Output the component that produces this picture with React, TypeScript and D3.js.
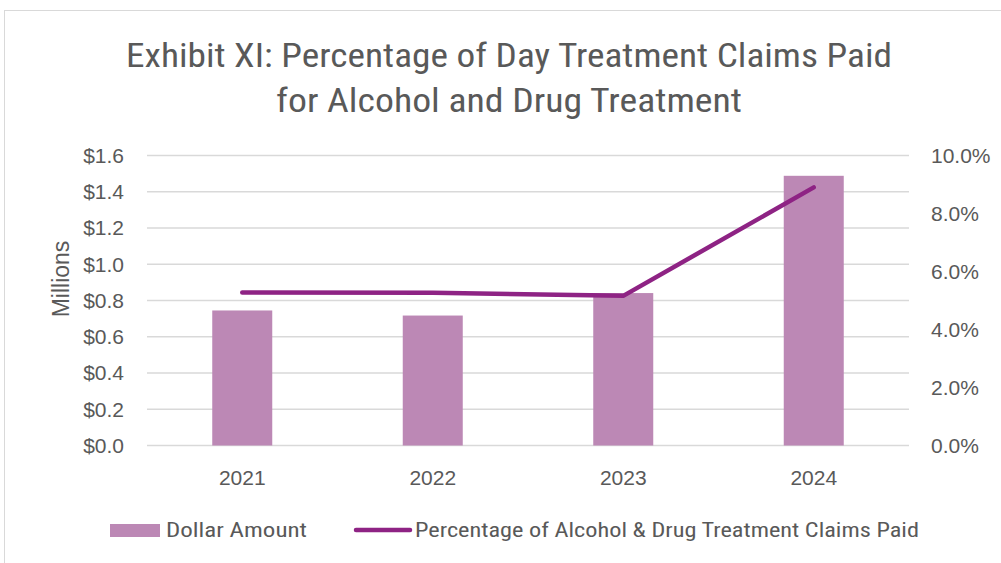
import React, { useEffect, useRef } from "react";
import * as d3 from "d3";

// values
const years = ["2021", "2022", "2023", "2024"];
const dollarMillions = [0.745, 0.717, 0.841, 1.488];
const pctPaid = [0.0528, 0.0527, 0.0516, 0.089];
const leftTicks = [0, 0.2, 0.4, 0.6, 0.8, 1.0, 1.2, 1.4, 1.6];
const rightTicks = [0, 0.02, 0.04, 0.06, 0.08, 0.1];

const titleLines = [
  "Exhibit XI: Percentage of Day Treatment Claims Paid",
  "for Alcohol and Drug Treatment",
];
const titleWidths = [766, 466];
const barLabel = "Dollar Amount";
const lineLabel = "Percentage of Alcohol & Drug Treatment Claims Paid";

const W = 1001;
const H = 563;
const narrow = "'Liberation Sans Narrow', 'Roboto Condensed', 'DejaVu Sans Condensed', sans-serif";
const sans = "'Liberation Sans', Arial, sans-serif";
const textColor = "#595959";

function App() {
  const ref = useRef<SVGSVGElement>(null);

  useEffect(() => {
    const svg = d3.select(ref.current);
    svg.selectAll("*").remove();

    const left = 147;
    const right = 909;
    const top = 155.5;
    const bottom = 445.5;

    const xc = d3.scaleBand().domain(years).range([left, right]);
    const cx = (d: string) => (xc(d) || 0) + xc.bandwidth() / 2;
    const barW = xc.bandwidth() * 0.315;
    const y = d3.scaleLinear().domain([0, 1.6]).range([bottom, top]);
    const y2 = d3.scaleLinear().domain([0, 0.1]).range([bottom, top]);

    // chart frame
    svg
      .append("rect")
      .attr("x", 4.5)
      .attr("y", 10.5)
      .attr("width", 1010)
      .attr("height", 560)
      .attr("fill", "#fff")
      .attr("stroke", "#d9d9d9");

    // title
    svg
      .append("g")
      .selectAll("text")
      .data(titleLines)
      .enter()
      .append("text")
      .attr("x", 509)
      .attr("y", (_d, i) => 67 + i * 45)
      .attr("text-anchor", "middle")
      .attr("font-family", narrow)
      .attr("font-size", 33)
      .attr("textLength", (_d, i) => titleWidths[i])
      .attr("lengthAdjust", "spacingAndGlyphs")
      .attr("fill", textColor)
      .text((d) => d);

    // gridlines
    svg
      .append("g")
      .selectAll("line")
      .data(leftTicks)
      .enter()
      .append("line")
      .attr("x1", left)
      .attr("x2", right)
      .attr("y1", (d) => y(d))
      .attr("y2", (d) => y(d))
      .attr("stroke", "#d9d9d9")
      .attr("stroke-width", 1.5);

    // left axis labels
    svg
      .append("g")
      .selectAll("text")
      .data(leftTicks)
      .enter()
      .append("text")
      .attr("x", 124)
      .attr("y", (d) => y(d))
      .attr("dy", "0.35em")
      .attr("text-anchor", "end")
      .attr("font-family", sans)
      .attr("font-size", 21)
      .attr("fill", textColor)
      .text((d) => "$" + d3.format(".1f")(d));

    // right axis labels
    svg
      .append("g")
      .selectAll("text")
      .data(rightTicks)
      .enter()
      .append("text")
      .attr("x", 931)
      .attr("y", (d) => y2(d))
      .attr("dy", "0.35em")
      .attr("text-anchor", "start")
      .attr("font-family", sans)
      .attr("font-size", 21)
      .attr("fill", textColor)
      .text((d) => d3.format(".1%")(d));

    // axis title
    svg
      .append("text")
      .attr("transform", `translate(69,279) rotate(-90)`)
      .attr("text-anchor", "middle")
      .attr("font-family", sans)
      .attr("font-size", 23)
      .attr("fill", textColor)
      .text("Millions");

    // bars
    svg
      .append("g")
      .selectAll("rect")
      .data(years)
      .enter()
      .append("rect")
      .attr("x", (d) => cx(d) - barW / 2)
      .attr("width", barW)
      .attr("y", (_d, i) => y(dollarMillions[i]))
      .attr("height", (_d, i) => bottom - y(dollarMillions[i]))
      .attr("fill", "#bc88b5");

    // year labels
    svg
      .append("g")
      .selectAll("text")
      .data(years)
      .enter()
      .append("text")
      .attr("x", (d) => cx(d))
      .attr("y", 478)
      .attr("dy", "0.35em")
      .attr("text-anchor", "middle")
      .attr("font-family", sans)
      .attr("font-size", 21)
      .attr("fill", textColor)
      .text((d) => d);

    // percentage line
    const line = d3
      .line<number>()
      .x((_d, i) => cx(years[i]))
      .y((d) => y2(d));
    svg
      .append("path")
      .datum(pctPaid)
      .attr("d", line)
      .attr("fill", "none")
      .attr("stroke", "#8e2384")
      .attr("stroke-width", 4.5)
      .attr("stroke-linecap", "round")
      .attr("stroke-linejoin", "round");

    // legend
    const lg = svg.append("g");
    lg.append("rect")
      .attr("x", 110)
      .attr("y", 524)
      .attr("width", 50)
      .attr("height", 13)
      .attr("fill", "#bc88b5");
    lg.append("text")
      .attr("x", 166)
      .attr("y", 530)
      .attr("dy", "0.35em")
      .attr("font-family", narrow)
      .attr("font-size", 21)
      .attr("textLength", 141)
      .attr("lengthAdjust", "spacingAndGlyphs")
      .attr("fill", textColor)
      .text(barLabel);
    lg.append("line")
      .attr("x1", 356)
      .attr("x2", 410)
      .attr("y1", 530)
      .attr("y2", 530)
      .attr("stroke", "#8e2384")
      .attr("stroke-width", 4.5)
      .attr("stroke-linecap", "round");
    lg.append("text")
      .attr("x", 415)
      .attr("y", 530)
      .attr("dy", "0.35em")
      .attr("font-family", narrow)
      .attr("font-size", 21)
      .attr("textLength", 504)
      .attr("lengthAdjust", "spacingAndGlyphs")
      .attr("fill", textColor)
      .text(lineLabel);
  });

  return (
    <svg
      ref={ref}
      width={W}
      height={H}
      style={{ position: "absolute", left: 0, top: 0, background: "#fff" }}
    ></svg>
  );
}

export default App;
